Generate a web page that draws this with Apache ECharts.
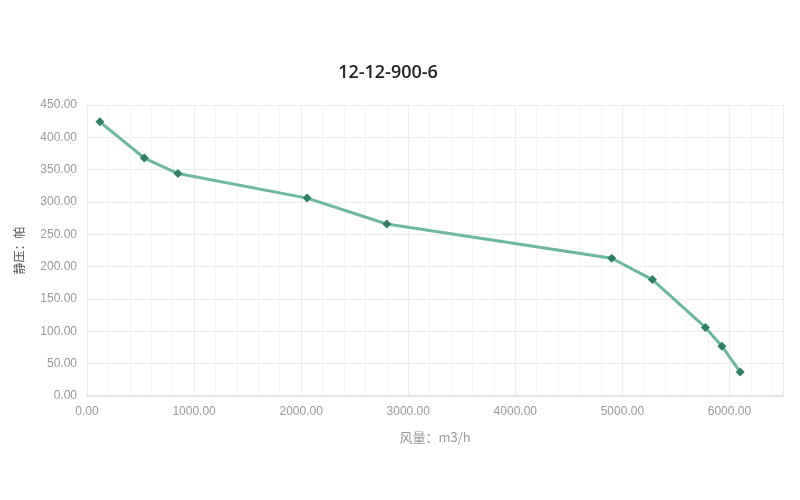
<!DOCTYPE html>
<html><head><meta charset="utf-8">
<script src="https://cdn.jsdelivr.net/npm/echarts@6/dist/echarts.min.js"></script>
<style>html,body{margin:0;padding:0;background:#fff}#c{width:800px;height:500px}</style>
</head><body><div id="c"></div>
<script>
const title = '12-12-900-6';
const airflow = [120, 535, 850, 2055, 2800, 4900, 5280, 5775, 5930, 6100];
const pressure = [424, 368, 344, 306, 266, 213, 180, 106, 77, 37];
const xName = '风量：m3/h';
const yName = '静压：帕';

const chart = echarts.init(document.getElementById('c'));
chart.setOption({
  backgroundColor: '#fff',
  title: { text: title, left: 383, top: 59, textAlign: 'center',
    textStyle: { fontFamily: 'Open Sans', fontSize: 18, fontWeight: 600, color: '#222' } },
  grid: { left: 87, right: 17, top: 105, bottom: 104, outerBoundsMode: 'none' },
  xAxis: {
    type: 'value', min: 0, max: 6500, interval: 1000,
    name: xName, nameLocation: 'middle', nameGap: 35,
    nameTextStyle: { color: '#999', fontSize: 13, fontFamily: 'Noto Sans CJK SC' },
    axisLine: { lineStyle: { color: '#e4e4e4', width: 2 } },
    axisTick: { show: false },
    axisLabel: { color: '#999', fontSize: 12, fontFamily: 'Liberation Sans', margin: 10,
      showMaxLabel: false, formatter: v => v.toFixed(2) },
    splitLine: { show: true, lineStyle: { color: '#ececec' } },
    minorTick: { show: false, splitNumber: 5 },
    minorSplitLine: { show: true, lineStyle: { color: '#f5f5f5' } }
  },
  yAxis: {
    type: 'value', min: 0, max: 450, interval: 50,
    name: yName, nameLocation: 'middle', nameGap: 62, nameRotate: 90,
    nameTextStyle: { color: '#555', fontSize: 12, fontFamily: 'Noto Sans CJK SC' },
    axisLine: { show: false },
    axisTick: { show: false },
    axisLabel: { color: '#999', fontSize: 12, fontFamily: 'Liberation Sans', margin: 10,
      formatter: v => v.toFixed(2) },
    splitLine: { show: true, lineStyle: { color: '#ececec' } },
    minorTick: { show: false, splitNumber: 2 },
    minorSplitLine: { show: false }
  },
  series: [{
    type: 'line',
    data: airflow.map((x, i) => [x, pressure[i]]),
    symbol: 'diamond', symbolSize: 9,
    lineStyle: { color: '#6db79a', width: 3 },
    itemStyle: { color: '#2f7f60' },
    animation: false
  }]
});
</script></body></html>
